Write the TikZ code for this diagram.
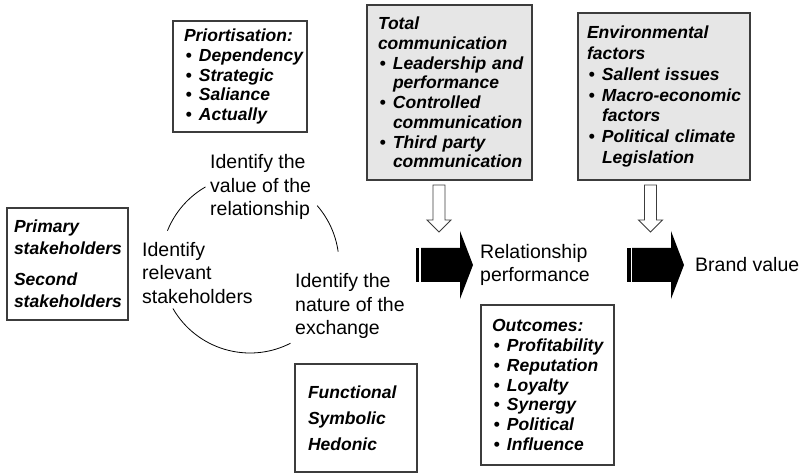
\documentclass[tikz,border=0pt]{standalone}
\usepackage{fontspec}
\setmainfont{Liberation Sans}
\usetikzlibrary{positioning}
\definecolor{bxLine}{RGB}{60,60,60}
\definecolor{bxGrey}{RGB}{230,230,230}
\newcommand{\itm}[1]{\mbox{\makebox[15pt][l]{\hspace{1.5pt}\textbullet}#1}}
\newcommand{\cnt}[1]{\mbox{\hspace*{15pt}#1}}
\newcommand{\hd}[1]{\mbox{#1}}

\begin{document}
\begin{tikzpicture}[x=1pt, y=-1pt,
        bx/.style={draw=bxLine, line width=1.1pt, fill=white, align=left, inner ysep=0pt,
          font=\fontsize{17.5}{19.7}\selectfont\bfseries\itshape},
        gbx/.style={bx, fill=bxGrey},
        lbl/.style={align=left, inner sep=0pt, font=\fontsize{19.5}{23.5}\selectfont},
        hollow/.style={draw=bxLine, line width=0.9pt, fill=white, line join=miter},
        node distance=7pt
      ]
        \useasboundingbox (0,0) rectangle (807,476);
        % boxes
        \node[bx, minimum width=134, minimum height=111, text width=112, inner xsep=11] (prio) at (240,76.5)
          {\hd{Priortisation:}\\ \itm{Dependency}\\ \itm{Strategic}\\ \itm{Saliance}\\ \itm{Actually}};
        \node[gbx, minimum width=165, minimum height=175, text width=143, inner xsep=11] (comm) at (449.5,92.5)
          {\hd{Total}\\ \hd{communication}\\ \itm{Leadership and}\\ \cnt{performance}\\ \itm{Controlled}\\
           \cnt{communication}\\ \itm{Third party}\\ \cnt{communication}};
        \node[gbx, minimum width=172, minimum height=167, text width=154, inner xsep=9,
          font=\fontsize{17.5}{20.8}\selectfont\bfseries\itshape] (env) at (664,96.5)
          {\hd{Environmental}\\ \hd{factors}\\ \itm{Sallent issues}\\ \itm{Macro-economic}\\ \cnt{factors}\\
           \itm{Political climate}\\ \cnt{Legislation}};
        \node[bx, minimum width=121, minimum height=112, text width=107, inner xsep=7] (stake) at (67.5,264)
          {\hd{Primary}\\[2.3pt] \hd{stakeholders}\\[11.3pt] \hd{Second}\\[2.3pt] \hd{stakeholders}};
        \node[bx, minimum width=122, minimum height=108, text width=96, inner xsep=13] (exch) at (356,418)
          {\hd{Functional}\\[6.3pt] \hd{Symbolic}\\[6.3pt] \hd{Hedonic}};
        \node[bx, minimum width=133, minimum height=160, text width=111, inner xsep=11] (out) at (547.5,385)
          {\hd{Outcomes:}\\ \itm{Profitability}\\ \itm{Reputation}\\ \itm{Loyalty}\\ \itm{Synergy}\\
           \itm{Political}\\ \itm{Influence}};

        % cycle
        \node[lbl, anchor=west] (value) at (210,187) {Identify the\\value of the\\relationship};
        \node[lbl, anchor=west] (relev) at (142,273) {Identify\\relevant\\stakeholders};
        \node[lbl, anchor=west] (nature) at (295,306) {Identify the\\nature of the\\exchange};
        \coordinate (cyc) at (250,264);
        \draw[line width=0.8pt] (cyc) ++(202:89) arc[start angle=202, end angle=240, radius=89];
        \draw[line width=0.8pt] (cyc) ++(-41:89) arc[start angle=-41, end angle=-8, radius=89];
        \draw[line width=0.8pt] (cyc) ++(63:89) arc[start angle=63, end angle=150, radius=89];

        % big arrows
        \coordinate (tip1) at (473,265);
        \coordinate (tip2) at (684,265);
        \fill (415.5,248) rectangle (419,282);
        \fill (421,248) -- (460,248) -- (460,231) -- (tip1) -- (460,299) -- (460,282) -- (421,282) -- cycle;
        \fill (627,248) rectangle (630.5,282);
        \fill (632,248) -- (671,248) -- (671,231) -- (tip2) -- (671,299) -- (671,282) -- (632,282) -- cycle;
        \node[lbl, right=of tip1] (relperf) {Relationship\\performance};
        \node[lbl, right=11pt of tip2] (brand) {Brand value};

        % hollow arrows
        \foreach \hx in {439,650.5}
          \draw[hollow] (\hx-6,185) -- (\hx+6,185) -- (\hx+6,220) -- (\hx+12,220) -- (\hx,232)
            -- (\hx-12,220) -- (\hx-6,220) -- cycle;
      \end{tikzpicture}
\end{document}
